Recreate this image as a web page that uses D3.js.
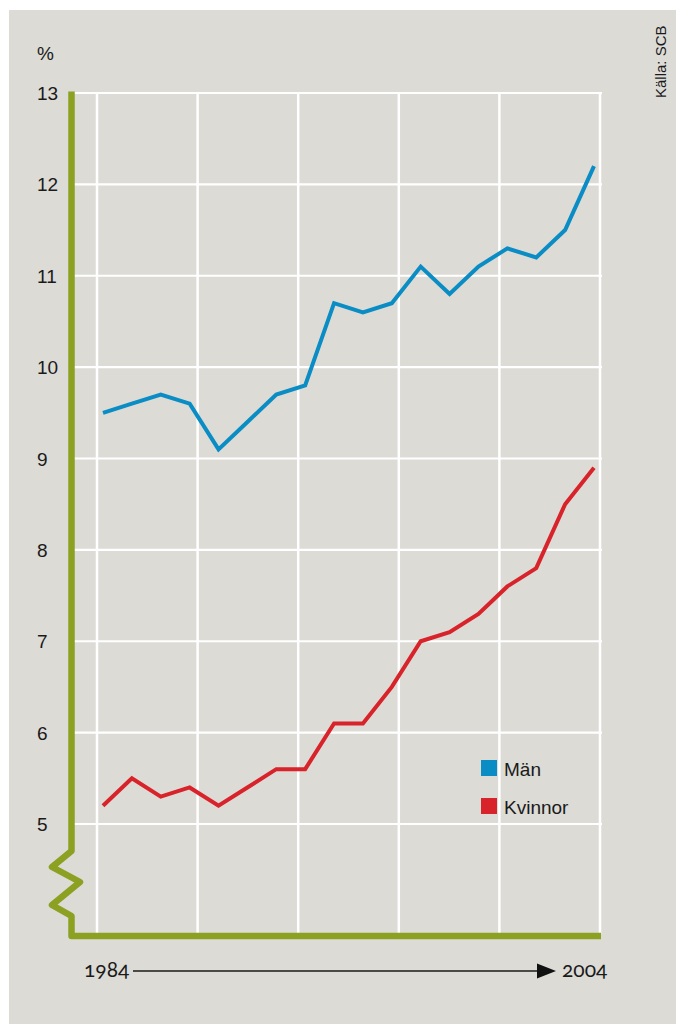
<!DOCTYPE html>
<html>
<head>
<meta charset="utf-8">
<script src="https://cdn.jsdelivr.net/npm/d3@7"></script>
<style>
  body { margin: 0; background: #fff; }
  text { font-family: "Liberation Sans", Arial, sans-serif; fill: #1a1a1a; }
  text.year { font-family: Lato, "Open Sans", "Liberation Sans", sans-serif; font-variant-numeric: oldstyle-nums; font-feature-settings: "onum" 1; }
</style>
</head>
<body>
<div class="chart"></div>
<script>
var w = 676;
var h = 1024;

// andel i procent, 18 mätpunkter mellan 1984 och 2004
var man = [9.5, 9.6, 9.7, 9.6, 9.1, 9.4, 9.7, 9.8, 10.7, 10.6, 10.7, 11.1, 10.8, 11.1, 11.3, 11.2, 11.5, 12.2];
var kvinnor = [5.2, 5.5, 5.3, 5.4, 5.2, 5.4, 5.6, 5.6, 6.1, 6.1, 6.5, 7.0, 7.1, 7.3, 7.6, 7.8, 8.5, 8.9];
var yTicks = [5, 6, 7, 8, 9, 10, 11, 12, 13];
var startYear = "1984";
var endYear = "2004";
var seriesNames = ["Män", "Kvinnor"];
var colors = ["#0a8cc4", "#d8232a"];

var xScale = d3.scaleLinear()
                .domain([0, man.length - 1])
                .range([103, 594]);

var yScale = d3.scaleLinear()
                .domain([5, 13])
                .range([824, 93]);

// vertikala stödlinjer, var fjärde år
var xGrid = d3.scaleLinear()
                .domain([0, 5])
                .range([97, 600]);

var svg = d3.select(".chart")
            .append("svg")
            .attr("width", w)
            .attr("height", h);

svg.append("rect")
    .attr("x", 9)
    .attr("y", 10)
    .attr("width", w - 9)
    .attr("height", h - 10)
    .attr("fill", "#dcdbd6");

// horisontella linjer
svg.selectAll("line.hgrid")
    .data(yTicks)
    .enter()
    .append("line")
    .attr("class", "hgrid")
    .attr("x1", 72)
    .attr("x2", 602)
    .attr("y1", function (d) { return yScale(d); })
    .attr("y2", function (d) { return yScale(d); })
    .attr("stroke", "#fff")
    .attr("stroke-width", 2.2);

svg.selectAll("line.vgrid")
    .data(d3.range(6))
    .enter()
    .append("line")
    .attr("class", "vgrid")
    .attr("x1", function (d) { return xGrid(d); })
    .attr("x2", function (d) { return xGrid(d); })
    .attr("y1", yScale(13) - 1)
    .attr("y2", 934)
    .attr("stroke", "#fff")
    .attr("stroke-width", 2.5);

// y-etiketter
svg.selectAll("text.ytick")
    .data(yTicks)
    .enter()
    .append("text")
    .attr("class", "ytick")
    .attr("x", 37)
    .attr("y", function (d) { return yScale(d) + 7; })
    .attr("font-size", "19px")
    .text(function (d) { return d; });

svg.append("text")
    .attr("x", 37)
    .attr("y", 60)
    .attr("font-size", "19px")
    .text("%");

// grön axel med brytmarkering
var axisPts = [[71.5, yScale(13) - 1.5], [71.5, 851], [52, 867], [80, 882], [52, 905], [71.5, 916], [71.5, 936], [601, 936]];
svg.append("path")
    .attr("d", d3.line()(axisPts))
    .attr("fill", "none")
    .attr("stroke", "#8ca022")
    .attr("stroke-width", 6.5)
    .attr("stroke-linejoin", "round");

// linjer
var line = d3.line()
    .x(function (d, i) { return xScale(i); })
    .y(function (d) { return yScale(d); });

svg.selectAll("path.serie")
    .data([man, kvinnor])
    .enter()
    .append("path")
    .attr("class", "serie")
    .attr("d", line)
    .attr("fill", "none")
    .attr("stroke", function (d, i) { return colors[i]; })
    .attr("stroke-width", 4)
    .attr("stroke-linejoin", "miter");

// legend
var legend = svg.selectAll("g.legend")
    .data(seriesNames)
    .enter()
    .append("g")
    .attr("class", "legend")
    .attr("transform", function (d, i) { return "translate(481," + (760 + i * 38) + ")"; });

legend.append("rect")
    .attr("width", 16)
    .attr("height", 16)
    .attr("fill", function (d, i) { return colors[i]; });

legend.append("text")
    .attr("x", 23)
    .attr("y", 15.5)
    .attr("font-size", "19px")
    .text(function (d) { return d; });

// tidsaxel
svg.append("text")
    .attr("class", "year")
    .attr("x", 84)
    .attr("y", 977)
    .attr("font-size", "21px")
    .text(startYear);

svg.append("text")
    .attr("class", "year")
    .attr("x", 562)
    .attr("y", 977)
    .attr("font-size", "21px")
    .text(endYear);

svg.append("line")
    .attr("x1", 133)
    .attr("x2", 540)
    .attr("y1", 971)
    .attr("y2", 971)
    .attr("stroke", "#1a1a1a")
    .attr("stroke-width", 1.4);

svg.append("path")
    .attr("d", d3.line()([[537, 963.5], [556, 971], [537, 978.5]]) + "Z")
    .attr("fill", "#111");

svg.append("text")
    .attr("transform", "translate(666,98) rotate(-90)")
    .attr("font-size", "15px")
    .text("Källa: SCB");
</script>
</body>
</html>
